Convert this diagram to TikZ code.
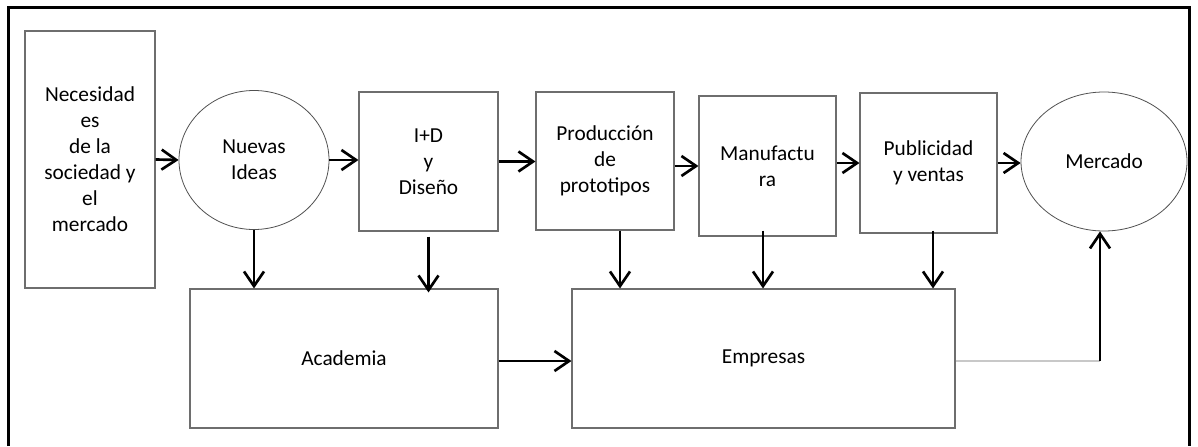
\documentclass[tikz,border=0pt]{standalone}
\usepackage{fontspec}
\setmainfont{Carlito}
\usetikzlibrary{arrows.meta,calc,shapes.geometric}

\definecolor{boxline}{HTML}{6E6E6E}
\definecolor{ovalline}{HTML}{505050}
\definecolor{thinlink}{HTML}{C8C8C8}

\tikzset{
  every node/.style={font=\fontsize{16}{19.5}\selectfont, align=center, inner sep=0pt},
  stepbox/.style={draw=boxline, line width=0.8pt, rectangle},
  oval/.style={draw=ovalline, line width=0.6pt, ellipse},
  flow/.style={draw=black, line width=2pt,
    -{Straight Barb[length=11pt, width=15pt]}},
}

\begin{document}
\begin{tikzpicture}[x=0.75pt, y=-0.75pt]
  \useasboundingbox (0,0) rectangle (1198,446);

  % outer frame, open at the bottom
  \draw[line width=1.6pt] (8.5,446) -- (8.5,7.5) -- (1189.5,7.5) -- (1189.5,446);

  % upper row
  \node[stepbox, minimum width=97.5pt, minimum height=192.75pt] (nec) at (90,159.5)
    {Necesidad\\es\\de la\\sociedad y\\el\\mercado};
  \node[oval, minimum width=112.5pt, minimum height=104.25pt] (ideas) at (254,160)
    {Nuevas\\Ideas};
  \node[stepbox, minimum width=104.25pt, minimum height=104.25pt] (id) at (428.5,161.5)
    {I+D\\y\\Diseño};
  \node[stepbox, minimum width=103.5pt, minimum height=103.5pt] (prod) at (605,161)
    {Producción\\de\\prototipos};
  \node[stepbox, minimum width=102.75pt, minimum height=105pt] (manu) at (767.5,166)
    {Manufactu\\ra};
  \node[stepbox, minimum width=102.75pt, minimum height=105pt] (pub) at (928.5,163)
    {Publicidad\\y ventas};
  \node[oval, minimum width=124.5pt, minimum height=104.25pt] (merc) at (1104,161.5)
    {Mercado};

  % lower row
  \node[stepbox, minimum width=231pt, minimum height=104.25pt] (acad) at (344,358.5)
    {Academia};
  \node[stepbox, minimum width=287.25pt, minimum height=104.25pt] (emp) at (763.5,358.5)
    {Empresas};

  % horizontal chain
  \draw[flow] (nec.east) -- (ideas.west);
  \draw[flow] (ideas.east) -- (ideas.east -| id.west);
  \draw[flow] (id.east) -- (id.east -| prod.west);
  \draw[flow] (prod.east |- manu.west) -- (manu.west);
  \draw[flow] (manu.east |- pub.west) -- (pub.west);
  \draw[flow] (pub.east) -- (pub.east -| merc.west);

  % downward links
  \draw[flow] (ideas.south) -- (ideas.south |- acad.north);
  \coordinate (idtop) at ($(id.south)+(0,5)$);
  \draw[flow] (idtop) -- ($(idtop |- acad.north)+(0,4)$);
  \coordinate (prodtop) at ($(prod.south)+(15,0)$);
  \draw[flow] (prodtop) -- (prodtop |- emp.north);
  \coordinate (manutop) at ($(manu.south)+(-4.5,-6)$);
  \draw[flow] (manutop) -- (manutop |- emp.north);
  \coordinate (pubtop) at ($(pub.south)+(4.5,-3)$);
  \draw[flow] (pubtop) -- (pubtop |- emp.north);

  % Academia to Empresas
  \coordinate (acadout) at ($(acad.east)+(0,2.5)$);
  \draw[flow] (acadout) -- (acadout -| emp.west);

  % Empresas to Mercado
  \coordinate (turn) at ($(merc.south |- emp.east)+(-4,2.5)$);
  \draw[thinlink, line width=0.9pt] (turn -| emp.east) -- (turn);
  \draw[flow] (turn) -- (turn |- merc.south);
\end{tikzpicture}
\end{document}
